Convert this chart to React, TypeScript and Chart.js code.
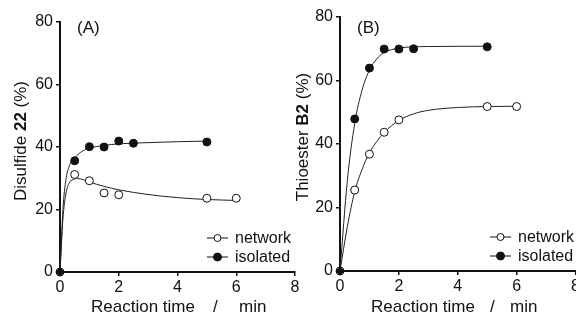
import React, { useEffect, useRef } from "react";
import { Chart, registerables } from "chart.js";

Chart.register(...registerables);

// ---------- Data ----------
const xTicks = [0, 2, 4, 6, 8];
const yTicks = [0, 20, 40, 60, 80];

// Panel A: Disulfide 22
const isoTimesA = [0, 0.5, 1, 1.5, 2, 2.5, 5];
const isoValuesA = [0, 35.6, 40.1, 40.0, 41.9, 41.2, 41.6];
const netTimesA = [0, 0.5, 1, 1.5, 2, 5, 6];
const netValuesA = [0, 31.2, 29.2, 25.3, 24.7, 23.6, 23.6];
const isoFitTA = [0, 0.1, 0.2, 0.3, 0.5, 0.75, 1, 1.5, 2, 3, 4, 5];
const isoFitYA = [0, 20, 29.5, 33.5, 36.5, 38.6, 39.6, 40.5, 41, 41.4, 41.7, 41.9];
const netFitTA = [0, 0.1, 0.2, 0.3, 0.45, 0.6, 0.8, 1, 1.5, 2, 3, 4, 5, 6];
const netFitYA = [0, 17, 25, 28.3, 29.6, 29.9, 29.5, 28.8, 27.4, 26.3, 24.8, 23.8, 23.2, 22.9];

// Panel B: Thioester B2
const isoTimesB = [0, 0.5, 1, 1.5, 2, 2.5, 5];
const isoValuesB = [0, 47.9, 63.9, 69.9, 69.9, 70.0, 70.6];
const netTimesB = [0, 0.5, 1, 1.5, 2, 5, 6];
const netValuesB = [0, 25.5, 36.8, 43.7, 47.6, 51.8, 51.8];
const isoFitTB = [0, 0.25, 0.5, 0.75, 1, 1.25, 1.5, 2, 2.5, 3, 5];
const isoFitYB = [0, 28.5, 46.5, 57, 63.3, 66.8, 68.8, 70.2, 70.6, 70.7, 70.8];
const netFitTB = [0, 0.25, 0.5, 0.75, 1, 1.5, 2, 2.5, 3, 4, 5, 6];
const netFitYB = [0, 14, 25, 32, 37.2, 43.6, 47.4, 49.5, 50.6, 51.5, 51.8, 51.9];

const legendLabels = ["network", "isolated"];
const xTitleParts = ["Reaction time", "/", "min"];

const FONT = "'Liberation Sans', Arial, Helvetica, sans-serif";
const INK = "#111";

const zip = (xs: number[], ys: number[]) => xs.map((x, i) => ({ x, y: ys[i] }));

type PanelProps = {
  left: number;
  width: number;
  areaLeft: number;
  areaRight: number;
  areaTop: number;
  areaBottom: number;
  label: string;
  titleA: string;
  titleB: string;
  titleC: string;
  yTitleX: number;
  yTitleY: number;
  xTitleX: number[];
  legendX: number;
  isoT: number[];
  isoV: number[];
  netT: number[];
  netV: number[];
  isoFT: number[];
  isoFV: number[];
  netFT: number[];
  netFV: number[];
};

function Panel(p: PanelProps) {
  const ref = useRef<HTMLCanvasElement | null>(null);
  useEffect(() => {
    const canvas = ref.current!;
    const height = 317;
    const overlay = {
      id: "overlay",
      afterDraw(chart: any) {
        const ctx = chart.ctx as CanvasRenderingContext2D;
        const a = chart.chartArea;
        ctx.save();
        ctx.fillStyle = INK;
        ctx.strokeStyle = INK;
        // panel label
        ctx.font = `17px ${FONT}`;
        ctx.textBaseline = "middle";
        ctx.textAlign = "left";
        ctx.fillText(p.label, a.left + 17, 28);
        // x title
        const xt = p.xTitleX;
        ctx.fillText(xTitleParts[0], a.left + xt[0], 307);
        ctx.fillText(xTitleParts[1], a.left + xt[1], 307);
        ctx.fillText(xTitleParts[2], a.left + xt[2], 307);
        // y title (rotated, mixed bold)
        ctx.save();
        ctx.translate(p.yTitleX, p.yTitleY);
        ctx.rotate(-Math.PI / 2);
        const fN = `17px ${FONT}`;
        const fB = `bold 17px ${FONT}`;
        ctx.font = fN;
        const w1 = ctx.measureText(p.titleA).width;
        const w3 = ctx.measureText(p.titleC).width;
        ctx.font = fB;
        const w2 = ctx.measureText(p.titleB).width;
        let x0 = -(w1 + w2 + w3) / 2;
        ctx.textAlign = "left";
        ctx.font = fN;
        ctx.fillText(p.titleA, x0, 0);
        x0 += w1;
        ctx.font = fB;
        ctx.fillText(p.titleB, x0, 0);
        x0 += w2;
        ctx.font = fN;
        ctx.fillText(p.titleC, x0, 0);
        ctx.restore();
        // legend
        const lx = a.left + p.legendX;
        const rows = [a.bottom - 34, a.bottom - 15];
        ctx.font = `16px ${FONT}`;
        rows.forEach((ry, i) => {
          ctx.beginPath();
          ctx.lineWidth = 1;
          ctx.moveTo(lx, ry);
          ctx.lineTo(lx + 21, ry);
          ctx.stroke();
          ctx.beginPath();
          ctx.arc(lx + 10.5, ry, i === 0 ? 3.5 : 4, 0, Math.PI * 2);
          ctx.fillStyle = i === 0 ? "#fff" : INK;
          ctx.fill();
          ctx.stroke();
          ctx.fillStyle = INK;
          ctx.fillText(legendLabels[i], lx + 28, ry + 1);
        });
        ctx.restore();
      },
    };

    const lineDs = (t: number[], v: number[]) => ({
      type: "line" as const,
      data: zip(t, v),
      borderColor: "#222",
      borderWidth: 1,
      pointRadius: 0,
      fill: false,
      order: 3,
      cubicInterpolationMode: "monotone" as const,
      clip: false as any,
    });

    const chart = new Chart(canvas, {
      type: "scatter",
      data: {
        datasets: [
          lineDs(p.netFT, p.netFV),
          lineDs(p.isoFT, p.isoFV),
          {
            data: zip(p.netT, p.netV),
            showLine: false,
            order: 2,
            pointRadius: 4,
            pointBorderWidth: 1,
            pointBackgroundColor: "#fff",
            pointBorderColor: INK,
            clip: false as any,
          },
          {
            data: zip(p.isoT, p.isoV),
            showLine: false,
            order: 1,
            pointRadius: 4,
            pointBorderWidth: 1,
            pointBackgroundColor: INK,
            pointBorderColor: INK,
            pointStyle: (ctx: any) => (ctx.raw && ctx.raw.x === 0 ? "rectRot" : "circle"),
            clip: false as any,
          },
        ],
      },
      options: {
        responsive: false,
        animation: false,
        events: [],
        layout: {
          padding: {
            left: 0,
            top: p.areaTop,
            right: p.width - p.areaRight,
            bottom: 0,
          },
        },
        plugins: { legend: { display: false }, tooltip: { enabled: false } },
        scales: {
          x: {
            type: "linear",
            min: 0,
            max: 8,
            afterBuildTicks: (s: any) => {
              s.ticks = xTicks.map((v) => ({ value: v }));
            },
            afterFit: (s: any) => {
              s.height = height - p.areaBottom;
            },
            grid: {
              display: true,
              drawOnChartArea: false,
              drawTicks: true,
              tickLength: 4,
              color: INK,
              lineWidth: 1.5,
            },
            border: { display: true, color: INK, width: 2 },
            ticks: {
              color: INK,
              font: { family: FONT, size: 16 },
              padding: 2,
              maxRotation: 0,
            },
          },
          y: {
            type: "linear",
            min: 0,
            max: 80,
            afterBuildTicks: (s: any) => {
              s.ticks = yTicks.map((v) => ({ value: v }));
            },
            afterFit: (s: any) => {
              s.width = p.areaLeft;
            },
            grid: {
              display: true,
              drawOnChartArea: false,
              drawTicks: true,
              tickLength: 4,
              color: INK,
              lineWidth: 1.5,
            },
            border: { display: true, color: INK, width: 2 },
            ticks: {
              color: INK,
              font: { family: FONT, size: 16 },
              padding: 3,
            },
          },
        },
      },
      plugins: [overlay],
    } as any);
    return () => chart.destroy();
  }, []);
  return (
    <canvas
      ref={ref}
      width={p.width}
      height={317}
      style={{ position: "absolute", left: p.left, top: 0, width: p.width, height: 317 }}
    />
  );
}

export default function App() {
  return (
    <div
      style={{
        position: "fixed",
        left: 0,
        top: 0,
        width: 576,
        height: 317,
        overflow: "hidden",
        background: "#fff",
      }}
    >
      <Panel
        left={0}
        width={310}
        areaLeft={60}
        areaRight={295}
        areaTop={22}
        areaBottom={272}
        label="(A)"
        titleA="Disulfide "
        titleB="22"
        titleC=" (%)"
        yTitleX={21}
        yTitleY={141}
        xTitleX={[31, 153, 179]}
        legendX={147}
        isoT={isoTimesA}
        isoV={isoValuesA}
        netT={netTimesA}
        netV={netValuesA}
        isoFT={isoFitTA}
        isoFV={isoFitYA}
        netFT={netFitTA}
        netFV={netFitYA}
      />
      <Panel
        left={290}
        width={300}
        areaLeft={50}
        areaRight={285.5}
        areaTop={17}
        areaBottom={271}
        label="(B)"
        titleA="Thioester "
        titleB="B2"
        titleC=" (%)"
        yTitleX={13}
        yTitleY={137}
        xTitleX={[31, 150, 170]}
        legendX={150}
        isoT={isoTimesB}
        isoV={isoValuesB}
        netT={netTimesB}
        netV={netValuesB}
        isoFT={isoFitTB}
        isoFV={isoFitYB}
        netFT={netFitTB}
        netFV={netFitYB}
      />
    </div>
  );
}
